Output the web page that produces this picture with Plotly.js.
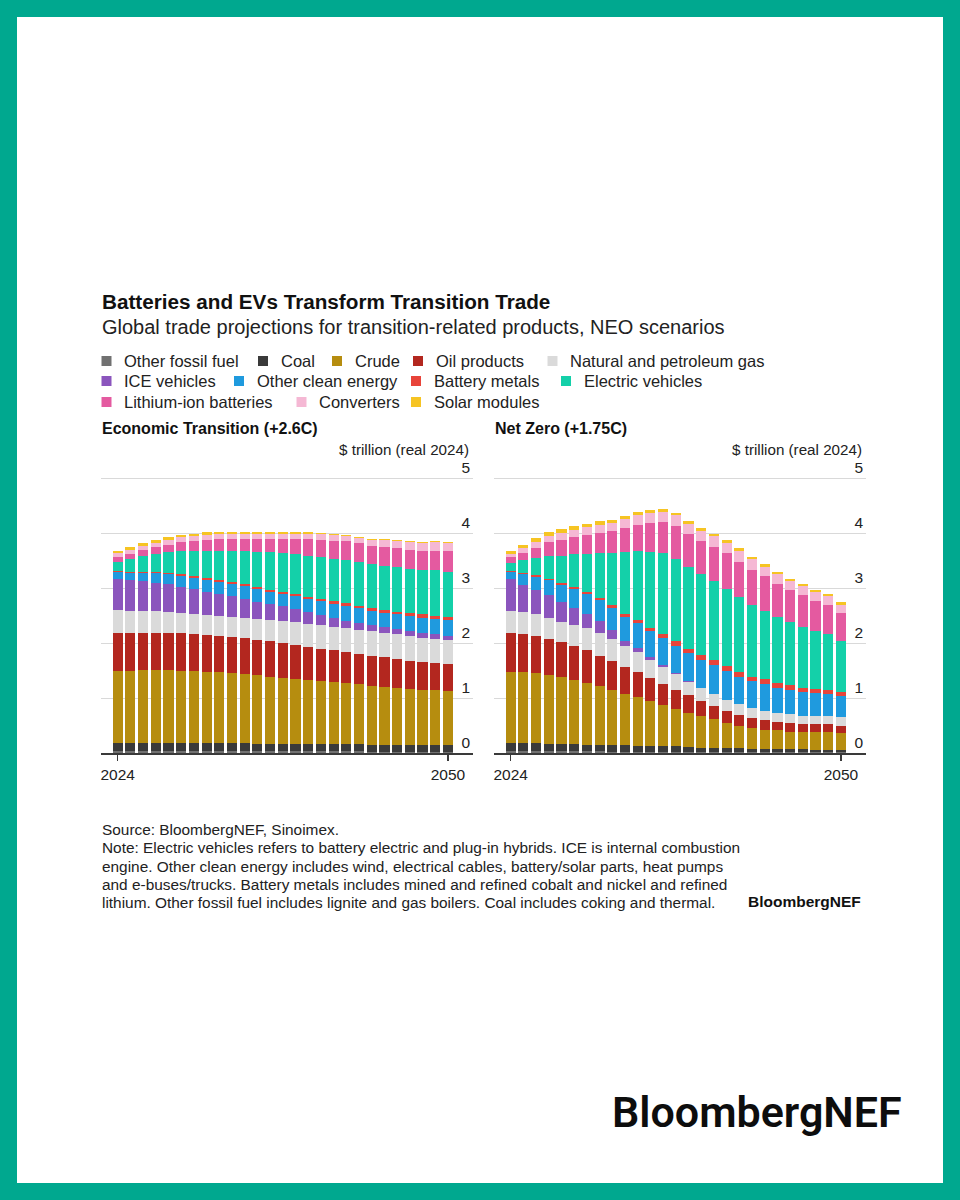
<!DOCTYPE html>
<html>
<head>
<meta charset="utf-8">
<script src="https://cdn.plot.ly/plotly-3.0.1.min.js"></script>
<style>
  html, body { margin: 0; padding: 0; background: #fff; }
  #chart { width: 960px; height: 1200px; }
</style>
</head>
<body>
<div id="chart"></div>
<script>
// ---------------- DATA ----------------
const years = [2024,2025,2026,2027,2028,2029,2030,2031,2032,2033,2034,2035,2036,2037,2038,2039,2040,2041,2042,2043,2044,2045,2046,2047,2048,2049,2050];
const seriesNames = ["Other fossil fuel","Coal","Crude","Oil products","Natural and petroleum gas","ICE vehicles","Other clean energy","Battery metals","Electric vehicles","Lithium-ion batteries","Converters","Solar modules"];
const seriesColors = ["#717171","#3a3a3a","#b68d0f","#b3271f","#dadada","#8b55bd","#1f9ade","#e8443a","#14d0a9","#e45aa0","#f5b8d4","#f6c423"];
const xTickValues = [2024, 2050];
const yTickValues = [0,1,2,3,4,5];

// Economic Transition (+2.6C), $ trillion (real 2024)
const etOtherFossil = [0.03,0.03,0.03,0.03,0.03,0.03,0.03,0.03,0.03,0.03,0.03,0.03,0.03,0.03,0.03,0.03,0.03,0.03,0.03,0.03,0.02,0.02,0.02,0.02,0.02,0.02,0.02];
const etCoal        = [0.15,0.15,0.15,0.15,0.15,0.15,0.15,0.15,0.15,0.15,0.15,0.14,0.14,0.14,0.14,0.14,0.14,0.14,0.13,0.13,0.13,0.13,0.13,0.12,0.12,0.12,0.12];
const etCrude       = [1.32,1.32,1.33,1.33,1.33,1.32,1.31,1.30,1.29,1.28,1.26,1.24,1.22,1.20,1.18,1.16,1.14,1.12,1.11,1.09,1.07,1.05,1.03,1.02,1.01,1.00,0.98];
const etOilProducts = [0.68,0.68,0.68,0.68,0.68,0.68,0.68,0.67,0.66,0.65,0.65,0.65,0.64,0.63,0.62,0.60,0.59,0.58,0.56,0.55,0.55,0.54,0.53,0.52,0.51,0.50,0.49];
const etGas         = [0.42,0.41,0.40,0.39,0.38,0.37,0.36,0.36,0.36,0.37,0.37,0.38,0.39,0.40,0.41,0.42,0.43,0.43,0.44,0.44,0.44,0.45,0.45,0.45,0.44,0.44,0.44];
const etIce         = [0.56,0.55,0.54,0.52,0.50,0.47,0.45,0.42,0.40,0.37,0.34,0.31,0.29,0.27,0.24,0.21,0.18,0.15,0.13,0.12,0.11,0.10,0.09,0.09,0.08,0.08,0.07];
const etOtherClean  = [0.13,0.14,0.15,0.17,0.18,0.20,0.21,0.22,0.22,0.23,0.23,0.23,0.22,0.22,0.23,0.24,0.25,0.26,0.27,0.27,0.26,0.26,0.27,0.27,0.28,0.28,0.29];
const etBatteryMet  = [0.02,0.02,0.02,0.02,0.03,0.03,0.03,0.03,0.03,0.03,0.04,0.04,0.04,0.04,0.04,0.04,0.04,0.05,0.05,0.05,0.05,0.05,0.05,0.05,0.06,0.06,0.06];
const etEv          = [0.16,0.22,0.29,0.33,0.37,0.42,0.46,0.50,0.54,0.57,0.60,0.64,0.68,0.71,0.73,0.75,0.76,0.77,0.79,0.79,0.80,0.80,0.81,0.81,0.81,0.82,0.83];
const etLiIon       = [0.09,0.09,0.10,0.12,0.14,0.16,0.18,0.20,0.21,0.22,0.23,0.24,0.25,0.26,0.28,0.30,0.32,0.33,0.34,0.34,0.34,0.35,0.35,0.35,0.35,0.36,0.37];
const etConverters  = [0.07,0.08,0.08,0.08,0.09,0.09,0.09,0.09,0.09,0.09,0.09,0.09,0.09,0.09,0.09,0.09,0.10,0.10,0.10,0.10,0.11,0.12,0.13,0.14,0.14,0.15,0.15];
const etSolar       = [0.05,0.05,0.05,0.05,0.05,0.04,0.04,0.04,0.03,0.03,0.03,0.03,0.03,0.03,0.03,0.03,0.02,0.02,0.02,0.02,0.02,0.02,0.02,0.02,0.02,0.02,0.02];

// Net Zero (+1.75C), $ trillion (real 2024)
const nzOtherFossil = [0.03,0.03,0.03,0.03,0.03,0.03,0.03,0.03,0.02,0.02,0.02,0.02,0.02,0.02,0.02,0.02,0.02,0.02,0.01,0.01,0.01,0.01,0.01,0.01,0.01,0.01,0.01];
const nzCoal        = [0.15,0.15,0.15,0.14,0.14,0.13,0.12,0.12,0.12,0.12,0.11,0.11,0.10,0.10,0.09,0.08,0.08,0.07,0.08,0.07,0.07,0.06,0.06,0.06,0.05,0.05,0.04];
const nzCrude       = [1.30,1.29,1.27,1.24,1.21,1.17,1.12,1.06,1.01,0.93,0.89,0.82,0.75,0.68,0.62,0.57,0.51,0.46,0.41,0.37,0.34,0.34,0.32,0.31,0.32,0.32,0.31];
const nzOilProducts = [0.70,0.69,0.68,0.66,0.64,0.62,0.60,0.56,0.53,0.50,0.46,0.42,0.39,0.35,0.32,0.28,0.25,0.22,0.20,0.19,0.18,0.16,0.16,0.15,0.14,0.14,0.14];
const nzGas         = [0.41,0.40,0.39,0.38,0.37,0.38,0.40,0.41,0.40,0.37,0.35,0.32,0.30,0.28,0.25,0.23,0.21,0.20,0.19,0.18,0.17,0.16,0.16,0.15,0.15,0.15,0.15];
const nzIce         = [0.57,0.50,0.45,0.42,0.36,0.31,0.26,0.22,0.15,0.10,0.08,0.06,0.04,0.02,0.01,0.01,0.01,0,0,0,0,0,0,0,0,0,0];
const nzOtherClean  = [0.13,0.19,0.23,0.27,0.31,0.34,0.36,0.38,0.41,0.44,0.45,0.47,0.49,0.50,0.51,0.51,0.52,0.52,0.50,0.49,0.48,0.46,0.44,0.43,0.42,0.41,0.39];
const nzBatteryMet  = [0.02,0.02,0.03,0.03,0.03,0.03,0.04,0.04,0.05,0.05,0.06,0.06,0.07,0.08,0.08,0.08,0.09,0.09,0.09,0.08,0.09,0.08,0.08,0.08,0.07,0.07,0.07];
const nzEv          = [0.14,0.24,0.32,0.42,0.50,0.60,0.69,0.82,0.95,1.12,1.25,1.38,1.47,1.50,1.49,1.47,1.44,1.41,1.36,1.30,1.25,1.20,1.15,1.11,1.06,1.01,0.92];
const nzLiIon       = [0.11,0.13,0.18,0.24,0.28,0.31,0.34,0.36,0.39,0.44,0.48,0.52,0.57,0.60,0.59,0.60,0.62,0.64,0.64,0.64,0.62,0.61,0.59,0.57,0.55,0.53,0.52];
const nzConverters  = [0.06,0.09,0.11,0.12,0.13,0.14,0.15,0.15,0.15,0.16,0.17,0.18,0.19,0.19,0.19,0.19,0.19,0.19,0.19,0.19,0.18,0.17,0.16,0.16,0.16,0.16,0.15];
const nzSolar       = [0.06,0.06,0.07,0.07,0.07,0.06,0.06,0.06,0.06,0.06,0.06,0.05,0.05,0.05,0.05,0.05,0.05,0.05,0.05,0.04,0.04,0.04,0.04,0.04,0.04,0.04,0.04];

const etSeries = [etOtherFossil,etCoal,etCrude,etOilProducts,etGas,etIce,etOtherClean,etBatteryMet,etEv,etLiIon,etConverters,etSolar];
const nzSeries = [nzOtherFossil,nzCoal,nzCrude,nzOilProducts,nzGas,nzIce,nzOtherClean,nzBatteryMet,nzEv,nzLiIon,nzConverters,nzSolar];

// ---------------- LAYOUT HELPERS ----------------
const W = 960, H = 1200;
const px = v => v / W;
const py = v => 1 - v / H;
const FONT = '"Liberation Sans", Arial, Helvetica, sans-serif';

const traces = [];
seriesNames.forEach((name, i) => {
  traces.push({type:'bar', name:name, x:years, y:etSeries[i], xaxis:'x', yaxis:'y',
    marker:{color:seriesColors[i], line:{width:0}}, hoverinfo:'skip', showlegend:false});
});
seriesNames.forEach((name, i) => {
  traces.push({type:'bar', name:name, x:years, y:nzSeries[i], xaxis:'x2', yaxis:'y2',
    marker:{color:seriesColors[i], line:{width:0}}, hoverinfo:'skip', showlegend:false});
});

// zero line at y=753px, 55px per unit; top of the axis a bit above 5
const Y_TOP = 5.55;
const yDom = [py(753), py(753 - Y_TOP * 55)];
function xAxis(domain, anchor) {
  return {domain:domain, anchor:anchor, range:[2022.69, 2051.97], tickvals:xTickValues,
    ticktext:xTickValues.map(String), showline:true, linecolor:'#3a3a3a', linewidth:2,
    ticks:'outside', ticklen:6, tickwidth:1.5, tickcolor:'#3a3a3a',
    tickfont:{family:FONT, size:15.5, color:'#222'}, showgrid:false, zeroline:false, fixedrange:true};
}
function yAxis(anchor) {
  return {domain:yDom, anchor:anchor, range:[0, Y_TOP], tickvals:yTickValues, side:'right',
    ticklabelposition:'inside top', ticks:'', showgrid:true, gridcolor:'#d9d9d9', gridwidth:1,
    zeroline:false, showline:false, tickfont:{family:FONT, size:15.5, color:'#222'}, fixedrange:true};
}

const annotations = [];
function addText(text, x, y, size, opts) {
  opts = opts || {};
  annotations.push({text:text, xref:'paper', yref:'paper', x:px(x), y:py(y),
    xanchor:opts.anchor || 'left', yanchor:'middle', showarrow:false, align:opts.anchor === 'right' ? 'right' : 'left',
    font:{family:opts.family || FONT, size:size, color:opts.color || '#1a1a1a', weight:opts.weight || 400}});
}

addText('<b>Batteries and EVs Transform Transition Trade</b>', 100, 301, 20.7, {color:'#111'});
addText('Global trade projections for transition-related products, NEO scenarios', 100, 327, 20, {color:'#222'});

// legend (manual, 3 rows like the reference)
const legendMarkerX = [106.5,263,337,418,552.5, 106.5,239,416,566, 106.5,301.5,416];
const legendRowY    = [361,361,361,361,361, 381,381,381,381, 402,402,402];
const shapes = [];
seriesNames.forEach((name, i) => {
  const cx = legendMarkerX[i], cy = legendRowY[i], h = 5;
  shapes.push({type:'rect', xref:'paper', yref:'paper', x0:px(cx-h), x1:px(cx+h), y0:py(cy+h), y1:py(cy-h),
    fillcolor:seriesColors[i], line:{width:0}});
  addText(name, cx + 15.5, cy, 16.5, {color:'#222'});
});

addText('<b>Economic Transition (+2.6C)</b>', 100, 429, 16, {color:'#111'});
addText('<b>Net Zero (+1.75C)</b>', 493, 429, 16, {color:'#111'});
addText('$ trillion (real 2024)', 471, 449, 15.2, {anchor:'right', color:'#222'});
addText('$ trillion (real 2024)', 864, 449, 15.2, {anchor:'right', color:'#222'});

const noteLines = [
  'Source: BloombergNEF, Sinoimex.',
  'Note: Electric vehicles refers to battery electric and plug-in hybrids. ICE is internal combustion',
  'engine. Other clean energy includes wind, electrical cables, battery/solar parts, heat pumps',
  'and e-buses/trucks. Battery metals includes mined and refined cobalt and nickel and refined',
  'lithium. Other fossil fuel includes lignite and gas boilers. Coal includes coking and thermal.'
];
const noteY = [829, 847.5, 866, 884.5, 903];
noteLines.forEach((t, i) => addText(t, 100, noteY[i], 15.4, {color:'#222'}));
addText('<b>BloombergNEF</b>', 863, 901, 15.5, {anchor:'right', color:'#111'});

// big logo text
addText('BloombergNEF', 610, 1112, 43, {family:'Roboto, "Liberation Sans", Arial, sans-serif', weight:600, color:'#0d0d0d'});

// teal frame
const TEAL = '#00a88f', B = 17;
shapes.push({type:'rect', xref:'paper', yref:'paper', x0:0, x1:1, y0:py(B), y1:1, fillcolor:TEAL, line:{width:0}, layer:'above'});
shapes.push({type:'rect', xref:'paper', yref:'paper', x0:0, x1:1, y0:0, y1:py(H-B), fillcolor:TEAL, line:{width:0}, layer:'above'});
shapes.push({type:'rect', xref:'paper', yref:'paper', x0:0, x1:px(B), y0:0, y1:1, fillcolor:TEAL, line:{width:0}, layer:'above'});
shapes.push({type:'rect', xref:'paper', yref:'paper', x0:px(W-B), x1:1, y0:0, y1:1, fillcolor:TEAL, line:{width:0}, layer:'above'});

const layout = {
  width:W, height:H, margin:{l:0, r:0, t:0, b:0, pad:0},
  paper_bgcolor:'#ffffff', plot_bgcolor:'rgba(0,0,0,0)',
  barmode:'stack', bargap:0.2, showlegend:false, hovermode:false,
  font:{family:FONT, color:'#222'},
  xaxis:xAxis([px(101), px(473)], 'y'),
  xaxis2:xAxis([px(494), px(866)], 'y2'),
  yaxis:yAxis('x'),
  yaxis2:yAxis('x2'),
  annotations:annotations,
  shapes:shapes
};

Plotly.newPlot('chart', traces, layout, {staticPlot:true, displayModeBar:false});
</script>
</body>
</html>
